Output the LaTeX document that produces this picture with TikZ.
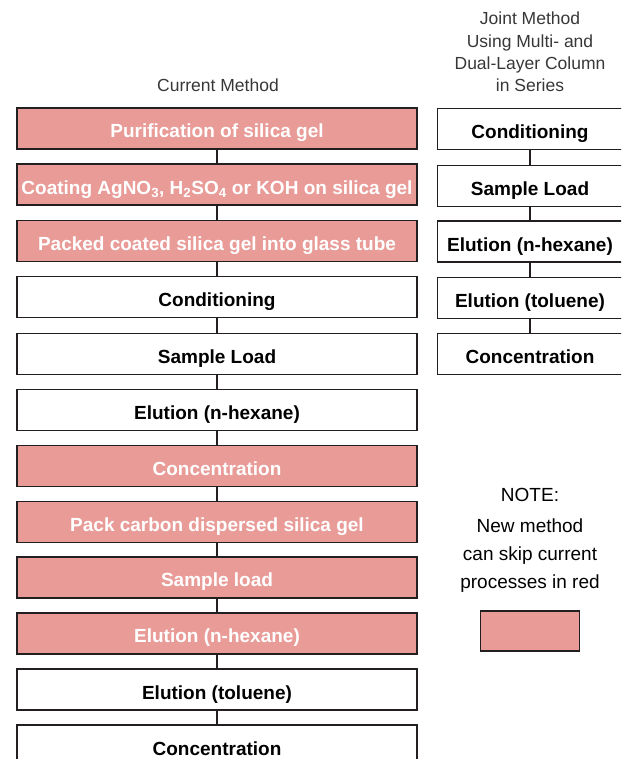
\documentclass[tikz,border=0pt]{standalone}
\usepackage{fontspec}
\setmainfont{Liberation Sans}
\definecolor{skipred}{RGB}{232,155,151}
\definecolor{edge}{RGB}{35,31,32}
\definecolor{headgray}{RGB}{55,55,55}
\begin{document}
\begin{tikzpicture}[x=1pt,y=-1pt,
  stepbox/.style={draw=edge, line width=1.8pt, fill=white, text=black,
    font=\fontsize{19}{20}\selectfont\bfseries, inner sep=0pt,
    text height=19pt, text depth=0pt, minimum height=41pt},
  leftbox/.style={stepbox, minimum width=400pt},
  rightbox/.style={stepbox, minimum width=185pt},
  skip/.style={fill=skipred, text=white},
  link/.style={draw=edge, line width=1.6pt},
  header/.style={text=headgray, font=\fontsize{17.5}{22.3}\selectfont, align=center, inner sep=0pt},
  notetext/.style={text=black, font=\fontsize{19}{28}\selectfont, align=center, inner sep=0pt}]
\useasboundingbox (0,0) rectangle (621,759);
\clip (0,0) rectangle (621,759);

% column headings
\node[header] (hcur) at (218,85) {Current Method};
\node[header, anchor=north] (hjoint) at (530,12) {Joint Method\\Using Multi- and\\Dual-Layer Column\\in Series};

% current method
\node[leftbox, skip] (c1) at (217,128.5) {Purification of silica gel};
\node[leftbox, skip] (c2) at (217,184.8) {Coating AgNO\textsubscript{3}, H\textsubscript{2}SO\textsubscript{4} or KOH on silica gel};
\node[leftbox, skip] (c3) at (217,241) {Packed coated silica gel into glass tube};
\node[leftbox] (c4) at (217,297) {Conditioning};
\node[leftbox] (c5) at (217,354) {Sample Load};
\node[leftbox] (c6) at (217,410) {Elution (n-hexane)};
\node[leftbox, skip] (c7) at (217,466) {Concentration};
\node[leftbox, skip] (c8) at (217,522) {Pack carbon dispersed silica gel};
\node[leftbox, skip] (c9) at (217,577.3) {Sample load};
\node[leftbox, skip] (c10) at (217,633.4) {Elution (n-hexane)};
\node[leftbox] (c11) at (217,689.5) {Elution (toluene)};
\node[leftbox] (c12) at (217,745.6) {Concentration};

\foreach \a/\b in {c1/c2,c2/c3,c3/c4,c4/c5,c5/c6,c6/c7,c7/c8,c8/c9,c9/c10,c10/c11,c11/c12}
  \draw[link] (\a.south) -- (\b.north);

% joint method
\node[rightbox] (j1) at (530,129) {Conditioning};
\node[rightbox] (j2) at (530,186) {Sample Load};
\node[rightbox] (j3) at (530,241.5) {Elution (n-hexane)};
\node[rightbox] (j4) at (530,298) {Elution (toluene)};
\node[rightbox] (j5) at (530,354) {Concentration};

\foreach \a/\b in {j1/j2,j2/j3,j3/j4,j4/j5}
  \draw[link] (\a.south) -- (\b.north);

% legend
\node[notetext, anchor=north] (note) at (530,488) {NOTE:\\[3pt]New method\\can skip current\\processes in red};
\node[draw=edge, line width=1.6pt, fill=skipred, minimum width=99pt, minimum height=40pt, inner sep=0pt] (key) at (530,631) {};
\end{tikzpicture}
\end{document}
